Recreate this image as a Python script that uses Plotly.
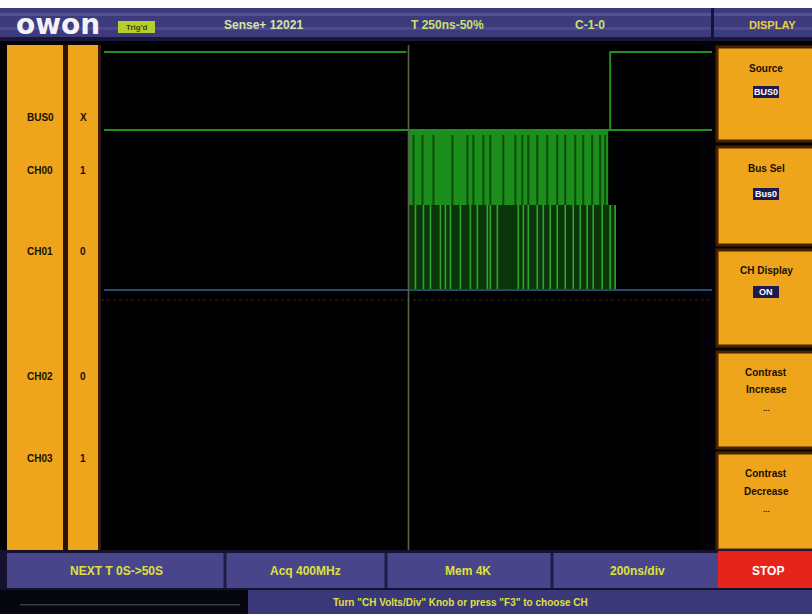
import plotly.graph_objects as go

# ---------------- data ----------------
channels = ["BUS0", "CH00", "CH01", "CH02", "CH03"]
channel_states = ["X", "1", "0", "0", "1"]

time_range_ns = [-1540, 1520]
trigger_ns = 0

bus_upper_left_ns = [-1525, -10]
bus_upper_right_ns = [1010, 1520]
ch00_burst_ns = [0, 1000]
ch00_low_pulse_ns = [25, 70, 125, 220, 295, 325, 375, 410, 475, 535, 570, 600,
                     645, 695, 745, 785, 835, 875, 920, 960, 985]
ch01_burst_ns = [0, 1035]
ch01_high_pulse_ns = [35, 75, 110, 160, 185, 210, 260, 310, 345, 395, 410, 445,
                      550, 575, 600, 645, 675, 710, 745, 785, 825, 860, 895, 925,
                      970, 1010, 1035]

header_fields = ["Sense+ 12021", "T 250ns-50%", "C-1-0"]
menu_title = "DISPLAY"
menu_items = [("Source", "BUS0"), ("Bus Sel", "Bus0"), ("CH Display", "ON"),
              ("Contrast", "Increase"), ("Contrast", "Decrease")]
status_fields = ["NEXT T 0S->50S", "Acq 400MHz", "Mem 4K", "200ns/div", "STOP"]
help_text = 'Turn "CH Volts/Div" Knob or press "F3" to choose CH'

# ---------------- layout helpers ----------------
W, H = 812, 614
def px(x):
    return x / W
def py(y):
    return 1 - y / H

# vertical levels (plot units, 50 px each)
LV = dict(bus_hi=9.96, bus_lo=8.4, ch00_hi=8.4, ch00_lo=6.8,
          ch01_hi=6.9, ch01_lo=5.2, ref=5.2, mark=5.0, top=10.1)

GREEN = "#1f8f1f"
ORANGE = "#EEA51B"
PURPLE = "#3e3b7c"
FONT = "Liberation Sans"

fig = go.Figure()

def vlines(xs, y0, y1):
    X, Y = [], []
    for x in xs:
        X += [x, x, None]
        Y += [y0, y1, None]
    return X, Y

# CH00 burst block
a, b = ch00_burst_ns
fig.add_trace(go.Scatter(x=[a, b, b, a, a], y=[LV["ch00_hi"], LV["ch00_hi"], LV["ch00_lo"], LV["ch00_lo"], LV["ch00_hi"]],
                         fill="toself", fillcolor="#1b8e1b", line=dict(width=0), mode="lines"))
X, Y = vlines(ch00_low_pulse_ns, LV["ch00_hi"] - 0.1, LV["ch00_lo"])
fig.add_trace(go.Scatter(x=X, y=Y, mode="lines", line=dict(color="#0c4d0c", width=2)))

# CH01 burst block
a, b = ch01_burst_ns
fig.add_trace(go.Scatter(x=[a, b, b, a, a], y=[LV["ch01_hi"], LV["ch01_hi"], LV["ch01_lo"], LV["ch01_lo"], LV["ch01_hi"]],
                         fill="toself", fillcolor="#0b360b", line=dict(width=0), mode="lines"))
X, Y = vlines(ch01_high_pulse_ns, LV["ch01_hi"], LV["ch01_lo"])
fig.add_trace(go.Scatter(x=X, y=Y, mode="lines", line=dict(color="#2fa52f", width=1.6)))

# reference lines
fig.add_trace(go.Scatter(x=time_range_ns, y=[LV["mark"], LV["mark"]], mode="lines",
                         line=dict(color="#4a1c10", width=1, dash="dot")))
fig.add_trace(go.Scatter(x=[time_range_ns[0] + 15, time_range_ns[1]], y=[LV["ref"], LV["ref"]], mode="lines",
                         line=dict(color="#27496a", width=2)))

# BUS0
fig.add_trace(go.Scatter(x=[time_range_ns[0] + 15, time_range_ns[1]], y=[LV["bus_lo"], LV["bus_lo"]], mode="lines",
                         line=dict(color=GREEN, width=2)))
fig.add_trace(go.Scatter(x=[bus_upper_left_ns[0], bus_upper_left_ns[1], None,
                            bus_upper_right_ns[0], bus_upper_right_ns[0], bus_upper_right_ns[1]],
                         y=[LV["bus_hi"], LV["bus_hi"], None, LV["bus_lo"], LV["bus_hi"], LV["bus_hi"]],
                         mode="lines", line=dict(color=GREEN, width=2)))

# trigger line
fig.add_trace(go.Scatter(x=[trigger_ns, trigger_ns], y=[0, LV["top"]], mode="lines",
                         line=dict(color="#56604a", width=1.6)))

shapes = []
ann = []

def rect(x0, y0, x1, y1, fill, line=None, lw=0, layer="below"):
    shapes.append(dict(type="rect", xref="paper", yref="paper", x0=px(x0), x1=px(x1),
                       y0=py(y1), y1=py(y0), fillcolor=fill,
                       line=dict(color=line or fill, width=lw), layer=layer))

def text(x, y, s, size=11, color="#1a0f00", bold=True, xanchor="center", family=FONT):
    ann.append(dict(x=px(x), y=py(y), xref="paper", yref="paper", text=("<b>%s</b>" % s) if bold else s,
                    showarrow=False, xanchor=xanchor, yanchor="middle",
                    font=dict(size=size, color=color, family=family)))

# frame
rect(0, 0, W, 8, "#ffffff")
rect(0, 8, W, 41, PURPLE)
rect(0, 13, W, 16, "#55529a")
rect(0, 27, W, 30, "#4d4a92")
rect(0, 37, W, 41, "#1a1838")
rect(711, 8, 714, 41, "#15143a")
# left panel
rect(7, 45, 63, 550, ORANGE)
rect(63, 45, 68, 550, "#2a1406")
rect(68, 45, 98, 550, ORANGE)
rect(98, 45, 101, 550, "#3a1a05")
# right menu
rect(700, 45, 718, 550, "#020208")
btn = [(47, 141), (147, 245), (250, 346), (352, 448), (453, 550)]
for (y0, y1) in btn:
    shapes.append(dict(type="rect", xref="paper", yref="paper", x0=px(717), x1=px(814), y0=py(y1), y1=py(y0),
                       fillcolor=ORANGE, line=dict(color="#4a2200", width=3), layer="below"))
# bottom bar
rect(0, 550, W, 590, "#14122e")
rect(7, 553, 718, 588, "#48458a")
for xd in [225, 386, 552]:
    rect(xd - 1.5, 553, xd + 1.5, 588, "#1e1c46")
rect(718, 551, W, 588, "#E6241A")
# status bar
rect(0, 590, 248, 614, "#06060e")
rect(248, 590, W, 614, "#3b3879")
rect(20, 604, 240, 605.5, "#3a3a48")

# header texts
text(58, 24, "owon", size=28, color="#f2f2f8", family="DejaVu Sans")
rect(118, 21, 155, 33, "#b7cf2c")
text(136.5, 27, "Trig'd", size=8, color="#3a4a08")
text(263, 25, header_fields[0], size=12, color="#d6e6a8")
text(447, 25, header_fields[1], size=12, color="#c8e070")
text(590, 25, header_fields[2], size=12, color="#c8e070")
text(772, 25, menu_title, size=11, color="#e8d040")

# left labels
ys = [118, 170, 252, 376, 458]
for y, c, s in zip(ys, channels, channel_states):
    text(40, y, c, size=10)
    text(83, y, s, size=10)

# menu buttons
item_y = [(68, 92), (168, 194), (270, 292), (372, 390), (473, 491)]
for i, ((t1, t2), (y1, y2)) in enumerate(zip(menu_items, item_y)):
    text(766, y1, t1, size=10)
    if i < 3:
        wbox = 13
        rect(766 - wbox, y2 - 6, 766 + wbox, y2 + 6, "#1c1a4e")
        text(766, y2, t2, size=9, color="#ffffff")
    else:
        text(766, y2, t2, size=10)
        text(766, y2 + 18, "...", size=8)

# bottom bar texts
centers = [116, 305, 468, 637, 768]
for c, s in zip(centers, status_fields):
    col = "#ffffff" if s == "STOP" else "#dfe040"
    text(c, 571, s, size=12, color=col)
text(460, 602, help_text, size=10, color="#dfe040")

fig.update_layout(
    width=W, height=H, margin=dict(l=0, r=0, t=0, b=0),
    paper_bgcolor="#030306", plot_bgcolor="#000000",
    showlegend=False, shapes=shapes, annotations=ann,
    xaxis=dict(domain=[px(101), px(712)], range=time_range_ns, visible=False, fixedrange=True),
    yaxis=dict(domain=[py(550), py(45)], range=[0, LV["top"]], visible=False, fixedrange=True),
)
fig.write_html("out.html", config={"displayModeBar": False},
               post_script="document.body.style.margin='0';document.body.style.overflow='hidden';")
